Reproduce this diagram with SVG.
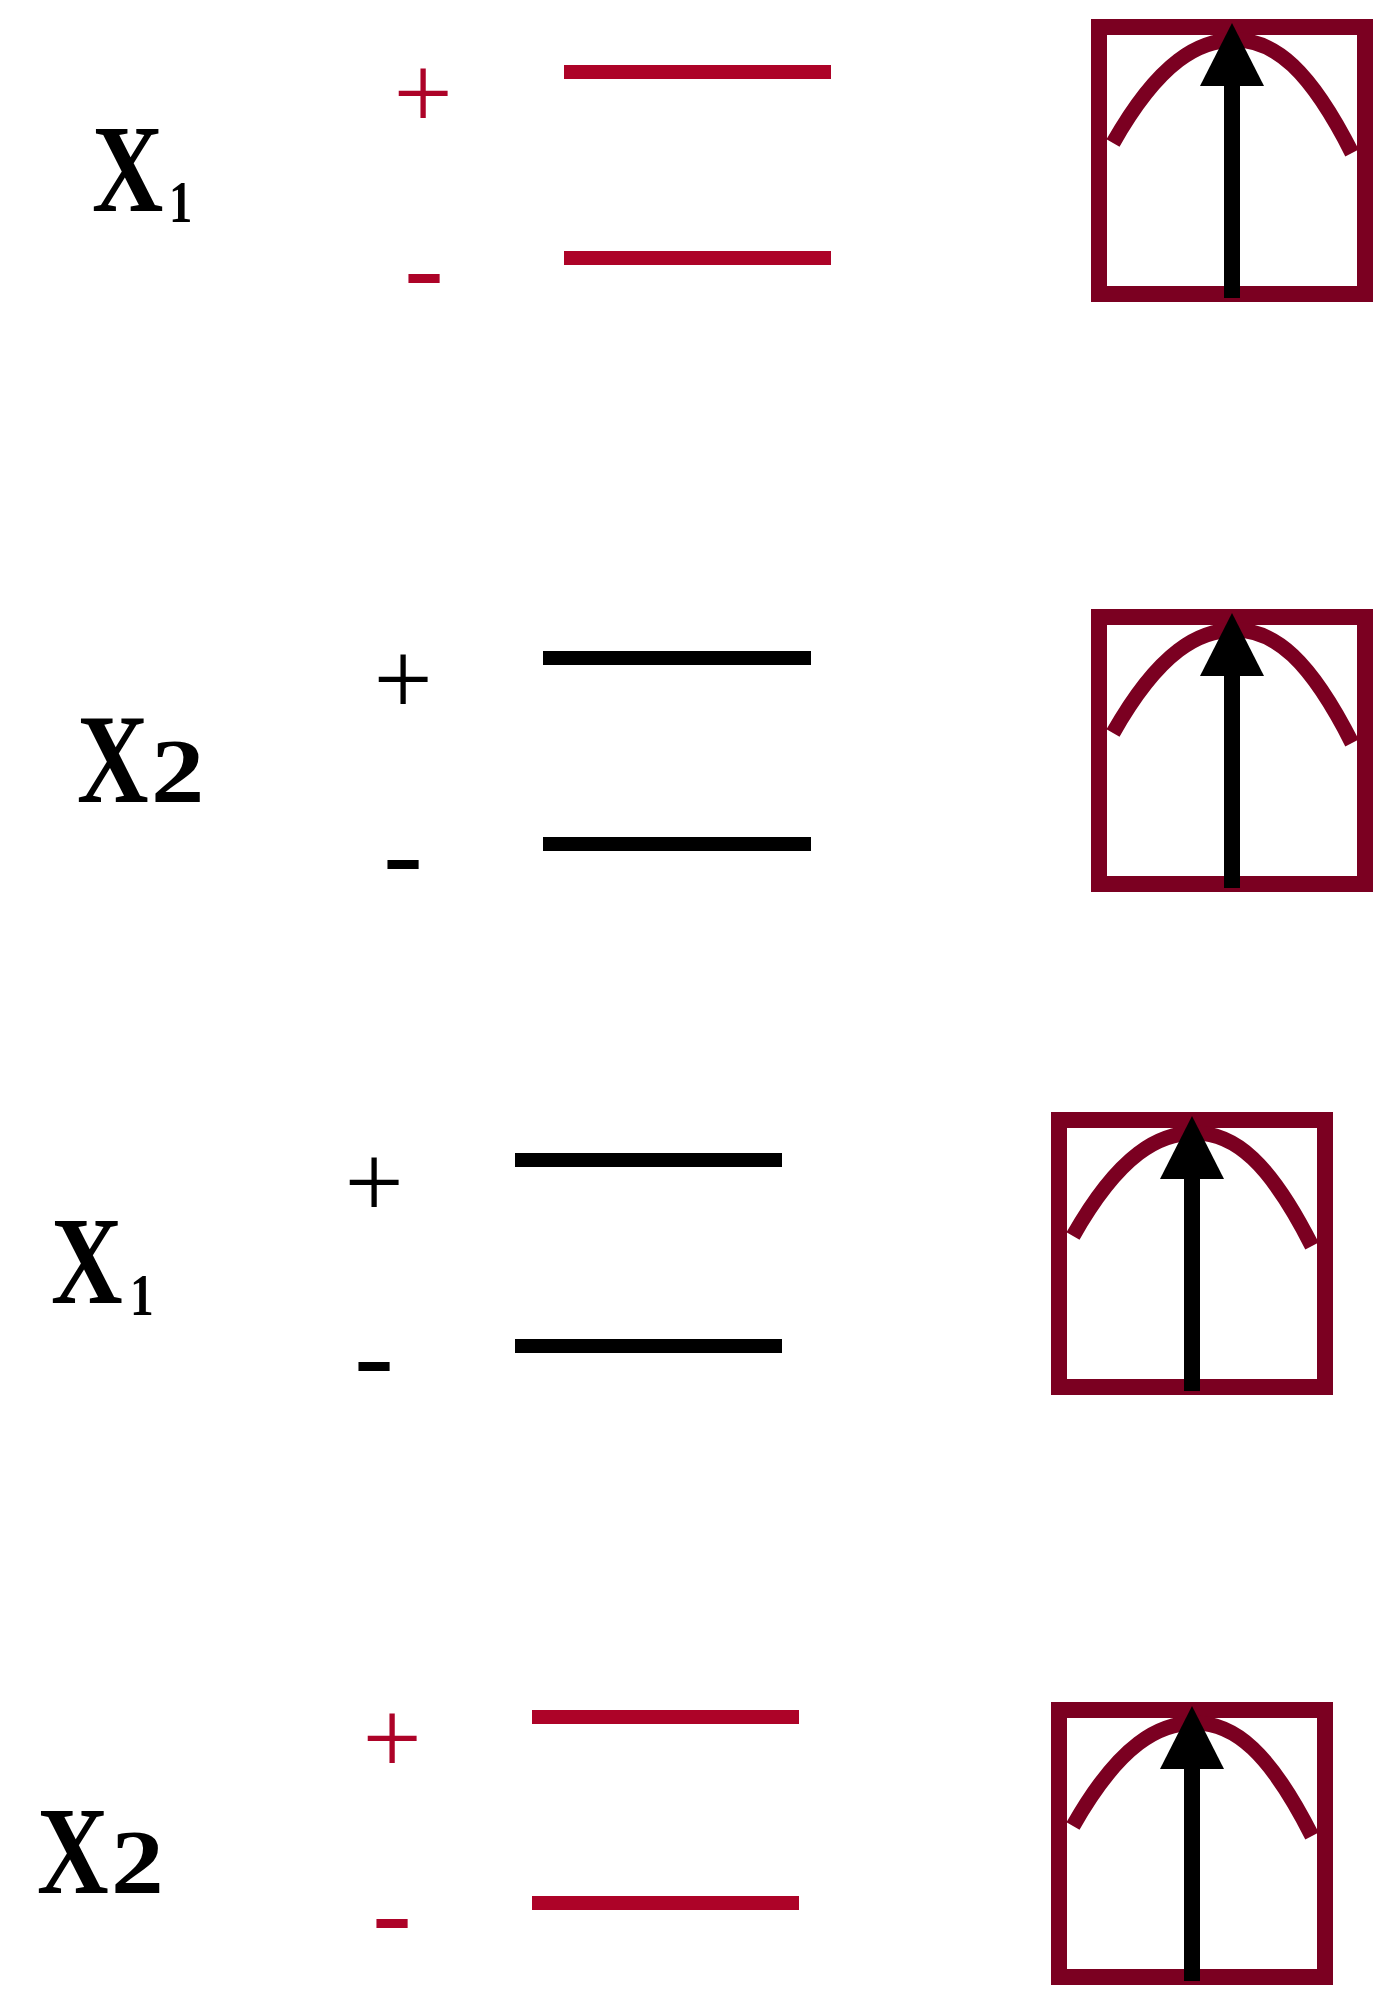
<svg xmlns="http://www.w3.org/2000/svg" xmlns:xlink="http://www.w3.org/1999/xlink" width="1382" height="1989" viewBox="0 0 1382 1989">
<style>
.lbl{font-weight:bold;fill:#000}
.pm{text-anchor:middle}
.red{fill:#AD0328}
.blk{fill:#000}
.lvl-red{stroke:#AD0328;stroke-width:14}
.lvl-blk{stroke:#000;stroke-width:14}
</style>
<defs>
<g id="boxsym">
<rect x="1099" y="27" width="266" height="267" fill="none" stroke="#7B0021" stroke-width="16"/>
<path d="M1113,143 C1160,60 1200,40 1235,40 C1275,40 1310,70 1352,153" fill="none" stroke="#7B0021" stroke-width="15"/>
<rect x="1224" y="84" width="16" height="214" fill="#000"/>
<polygon points="1232,23 1264,86 1200,86" fill="#000"/>
</g>
</defs>
<rect width="1382" height="1989" fill="#fff"/>

<g id="row1" font-family="Liberation Serif, Times New Roman, serif">
<text class="lbl" font-size="125" transform="translate(92,211) scale(0.79,1)">X</text>
<text class="lbl" font-size="59" transform="translate(169,222) scale(0.79,1)">1</text>
<text class="pm red" font-size="105" x="423" y="129">+</text>
<text class="pm red" font-size="120" x="424" y="307">-</text>
<line class="lvl-red" x1="564" y1="72" x2="831" y2="72"/>
<line class="lvl-red" x1="564" y1="258" x2="831" y2="258"/>
<use xlink:href="#boxsym"/>
</g>

<g id="row2" font-family="Liberation Serif, Times New Roman, serif">
<text class="lbl" font-size="127" transform="translate(77,802) scale(0.78,1)">X</text>
<text class="lbl" font-size="92" transform="translate(151,802) scale(1.16,1)">2</text>
<text class="pm blk" font-size="105" x="403" y="715">+</text>
<text class="pm blk" font-size="120" x="403" y="893">-</text>
<line class="lvl-blk" x1="543" y1="658" x2="811" y2="658"/>
<line class="lvl-blk" x1="543" y1="844" x2="811" y2="844"/>
<use xlink:href="#boxsym" transform="translate(0,590)"/>
</g>

<g id="row3" font-family="Liberation Serif, Times New Roman, serif">
<text class="lbl" font-size="124" transform="translate(51,1303) scale(0.8,1)">X</text>
<text class="lbl" font-size="60" transform="translate(130,1315) scale(0.79,1)">1</text>
<text class="pm blk" font-size="105" x="374" y="1218">+</text>
<text class="pm blk" font-size="120" x="374" y="1395">-</text>
<line class="lvl-blk" x1="515" y1="1160" x2="782" y2="1160"/>
<line class="lvl-blk" x1="515" y1="1346" x2="782" y2="1346"/>
<use xlink:href="#boxsym" transform="translate(-40,1093)"/>
</g>

<g id="row4" font-family="Liberation Serif, Times New Roman, serif">
<text class="lbl" font-size="124" transform="translate(37,1893) scale(0.8,1)">X</text>
<text class="lbl" font-size="91" transform="translate(111,1893) scale(1.16,1)">2</text>
<text class="pm red" font-size="105" x="392" y="1774">+</text>
<text class="pm red" font-size="120" x="392" y="1952">-</text>
<line class="lvl-red" x1="532" y1="1717" x2="799" y2="1717"/>
<line class="lvl-red" x1="532" y1="1903" x2="799" y2="1903"/>
<use xlink:href="#boxsym" transform="translate(-40,1683)"/>
</g>
</svg>
